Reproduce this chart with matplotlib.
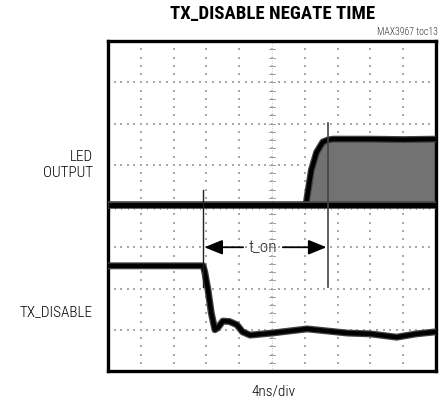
import numpy as np
import matplotlib
matplotlib.use("Agg")
import matplotlib.pyplot as plt

# ---- data (in screen divisions: x 0..10, y 0..8) ----
led_x = [0.0, 6.0, 6.05, 6.2, 6.36, 6.55, 6.7, 6.86, 8.0, 9.0, 10.0]
led_y = [4.02, 4.02, 4.1, 4.87, 5.3, 5.55, 5.6, 5.62, 5.62, 5.61, 5.62]
led_base_y = 4.02

tx_x = [0.0, 1.5, 2.9, 2.95, 3.05, 3.15, 3.26, 3.35, 3.5, 3.7, 3.93, 4.1, 4.33,
        5.0, 6.07, 7.3, 8.0, 8.8, 9.4, 10.0]
tx_y = [2.55, 2.55, 2.55, 2.4, 1.96, 1.4, 1.0, 1.05, 1.21, 1.2, 1.12, 0.95, 0.87,
        0.92, 1.02, 0.92, 0.9, 0.82, 0.9, 0.95]

marker_left_x = 2.9
marker_right_x = 6.7
marker_left_top = 4.39
marker_right_top = 6.01
marker_bottom = 2.04
arrow_y = 3.0

title = "TX_DISABLE NEGATE TIME"
note = "MAX3967 toc13"
xlabel = "4ns/div"
label_led = "LED\nOUTPUT"
label_tx = "TX_DISABLE"
label_ton = "t_on"

FONT = ["Roboto Condensed", "DejaVu Sans"]
plt.rcParams["font.family"] = FONT

fig = plt.figure(figsize=(4.41, 4.04), dpi=100)
W, H = 441, 404
l, r, t, b = 108, 436, 41, 371
ax = fig.add_axes([l / W, 1 - b / H, (r - l) / W, (b - t) / H])
ax.set_xlim(0, 10)
ax.set_ylim(0, 8)
ax.set_xticks([])
ax.set_yticks([])
for s in ax.spines.values():
    s.set_linewidth(2.4)
    s.set_color("black")

# graticule dots
gx = np.arange(0, 10.001, 0.2)
gy = np.arange(0, 8.001, 0.2)
for xv in range(1, 10):
    ax.scatter(np.full_like(gy, xv), gy, s=1.2, marker="s", color="#a8a8a8", lw=0, zorder=1)
for yv in range(1, 8):
    ax.scatter(gx, np.full_like(gx, yv), s=1.2, marker="s", color="#a8a8a8", lw=0, zorder=1)
# centre axis ticks
for yv in gy:
    ax.plot([4.92, 5.08], [yv, yv], color="#a0a0a0", lw=0.7, zorder=1)
for xv in gx:
    ax.plot([xv, xv], [3.93, 4.07], color="#a0a0a0", lw=0.7, zorder=1)
ax.plot([5, 5], [0, 8], color="#c0c0c0", lw=0.6, ls=(0, (1, 2)), zorder=1)

# LED output: modulated band
lx = np.array(led_x)
ly = np.array(led_y)
ax.fill_between(lx, led_base_y, ly, where=lx >= 6.0, color="#727272", lw=0, zorder=2)
ax.plot(lx[lx >= 6.0], ly[lx >= 6.0], color="#444444", lw=5.0, solid_capstyle="butt", zorder=3)
ax.plot(lx[lx >= 6.0], ly[lx >= 6.0], color="black", lw=3.2, solid_capstyle="butt", zorder=3)
ax.plot([0, 10], [led_base_y, led_base_y], color="#444444", lw=5.5, solid_capstyle="butt", zorder=3)
ax.plot([0, 10], [led_base_y, led_base_y], color="black", lw=3.5, solid_capstyle="butt", zorder=3)

# TX_DISABLE trace
ax.plot(tx_x, tx_y, color="#444444", lw=5.0, solid_joinstyle="round", zorder=3)
ax.plot(tx_x, tx_y, color="black", lw=3.2, solid_joinstyle="round", zorder=3)

# markers
ax.plot([marker_left_x] * 2, [marker_bottom, marker_left_top], color="#222222", lw=1.0, zorder=4)
ax.plot([marker_right_x] * 2, [marker_bottom, marker_right_top], color="#444444", lw=1.2, zorder=4)

ton_x = 4.73
ax.text(ton_x, arrow_y, label_ton, ha="center", va="center", fontsize=12.5, fontweight="light",
        color="#222222", zorder=5)
ap = dict(arrowstyle="-|>,head_length=1.1,head_width=0.45", color="black", lw=1.3,
          shrinkA=0, shrinkB=0)
ax.annotate("", xy=(marker_left_x + 0.04, arrow_y), xytext=(4.12, arrow_y), arrowprops=ap, zorder=5)
ax.annotate("", xy=(marker_right_x - 0.04, arrow_y), xytext=(5.33, arrow_y), arrowprops=ap, zorder=5)

# texts
fig.text(273 / W, 1 - 14 / H, title, ha="center", va="center", fontsize=13.5, fontweight="bold")
fig.text(438 / W, 1 - 32 / H, note, ha="right", va="center", fontsize=7, fontweight="light",
         color="#333333")
fig.text(274 / W, 1 - 392 / H, xlabel, ha="center", va="center", fontsize=11, fontweight="light")
fig.text(93 / W, 1 - 165 / H, label_led, ha="right", va="center", fontsize=11, fontweight="light",
         linespacing=1.2)
fig.text(93 / W, 1 - 312 / H, label_tx, ha="right", va="center", fontsize=11, fontweight="light")

fig.savefig("out.png", dpi=100)
